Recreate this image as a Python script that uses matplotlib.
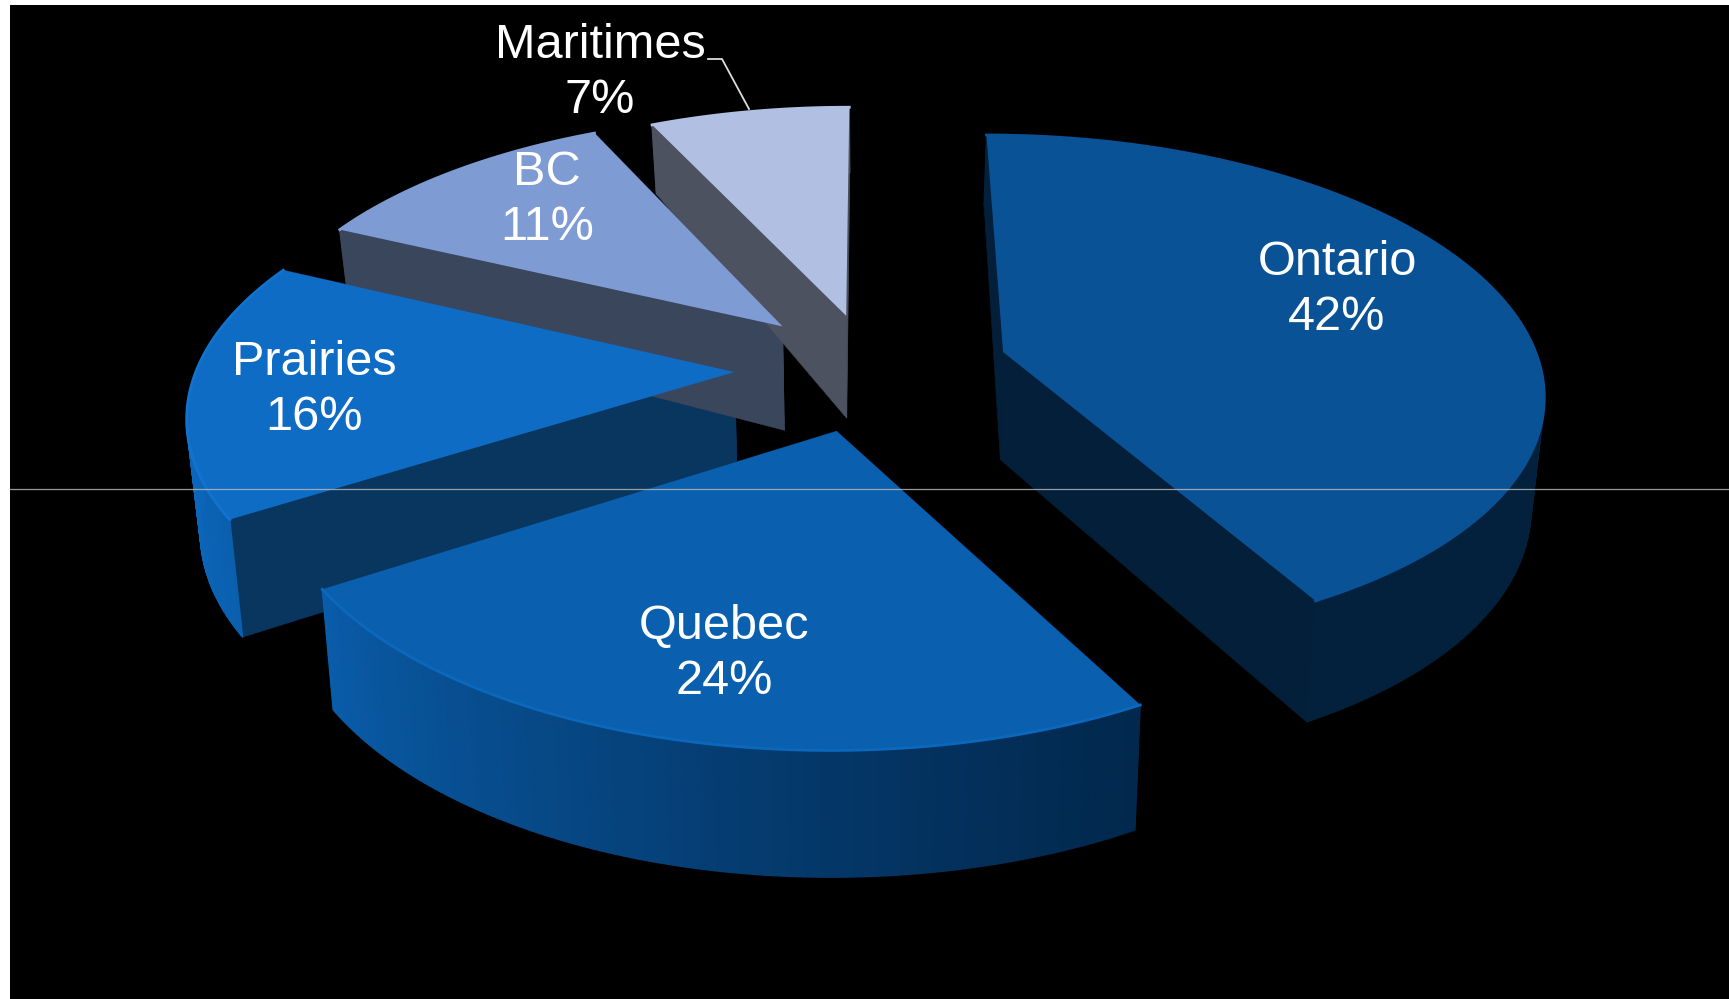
import numpy as np
import matplotlib
matplotlib.use('Agg')
import matplotlib.pyplot as plt
from matplotlib.collections import PolyCollection
from matplotlib.colors import to_rgb
from matplotlib.patches import Rectangle

# ------------------- data -------------------
regions = ['Ontario', 'Quebec', 'Prairies', 'BC', 'Maritimes']
shares = [42, 24, 16, 11, 7]
explode = [0.247, 0.24, 0.245, 0.23, 0.21]

# ------------------- style -------------------
top_col = ['#0a5296', '#0a60ae', '#0e6cc4', '#7e9bd4', '#b0bfe2']
rim_col = ['#0a5296', '#0b68bd', '#1273cf', '#7e9bd4', '#b0bfe2']
wall_start = ['#03213d', '#0a5eac', '#0c66ba', '#3a465c', '#4c5260']
wall_end = ['#03213d', '#02284d', '#0a5aa6', '#3a465c', '#4c5260']
side_col = ['#031f39', '#02284d', '#08365f', '#3a465c', '#4c5260']
label_pos = [(1337, 290), (724, 654), (314, 390), (547, 200), (600, 73)]

# fake perspective, all in pixels of the output picture
CX, CY = 871, 368
A, B, K = 557, 262, 0.15
R = 0.965
H0, H_FAR, H_NEAR = 110, 38, 14
BOTTOM_X = 0.98


def project(x, y, bottom=False):
    s = 1 / (1 + K * y)
    sx = A * x * s
    sy = CY - B * y * s
    if bottom:
        sx = sx * BOTTOM_X
        # the side walls get shallow towards the back of the pie
        sy = sy + H0 - H_FAR * np.maximum(y, 0) - H_NEAR * np.minimum(y, 0)
    return CX + sx, sy


def mix(c1, c2, t):
    return tuple((1 - t) * a + t * b for a, b in zip(to_rgb(c1), to_rgb(c2)))


fig = plt.figure(figsize=(17.29, 9.99), dpi=100, facecolor='white')
ax = fig.add_axes([0, 0, 1, 1])
ax.set_xlim(0, 1729)
ax.set_ylim(999, 0)
ax.axis('off')
ax.add_patch(Rectangle((10, 5), 1719, 994, color='black', lw=0, zorder=0))

# slice angles clockwise from 12 o'clock
edges = np.cumsum([0] + shares) / sum(shares) * 2 * np.pi

# painter's order, far slices first
for i in [4, 3, 2, 0, 1]:
    mid = (edges[i] + edges[i + 1]) / 2
    ox, oy = explode[i] * np.sin(mid), explode[i] * np.cos(mid)
    t = np.linspace(edges[i], edges[i + 1], 120)
    ax_x, ax_y = ox + R * np.sin(t), oy + R * np.cos(t)
    tx, ty = project(ax_x, ax_y)
    bx, by = project(ax_x, ax_y, bottom=True)
    px, py = project(ox, oy)
    qx, qy = project(ox, oy, bottom=True)

    # radial walls
    ax.fill([px, tx[0], bx[0], qx], [py, ty[0], by[0], qy], color=side_col[i], lw=0.5, zorder=2 + i / 10)
    ax.fill([px, tx[-1], bx[-1], qx], [py, ty[-1], by[-1], qy], color=side_col[i], lw=0.5, zorder=2 + i / 10)

    # outer wall as strips, shaded left to right
    quads = []
    cols = []
    xmin, xmax = min(tx), max(tx)
    for j in range(len(t) - 1):
        quads.append([(tx[j], ty[j]), (tx[j + 1], ty[j + 1]), (bx[j + 1], by[j + 1]), (bx[j], by[j])])
        cols.append(mix(wall_start[i], wall_end[i], ((tx[j] - xmin) / (xmax - xmin)) ** 0.7))
    ax.add_collection(PolyCollection(quads, facecolors=cols, edgecolors=cols, linewidths=1.0, zorder=2.5 + i / 10))

    # top face and rim
    ax.fill(np.r_[px, tx], np.r_[py, ty], color=top_col[i], lw=0, zorder=3 + i / 10)
    ax.plot(tx, ty, color=rim_col[i], lw=2, zorder=3 + i / 10)

for i in range(len(regions)):
    ax.text(label_pos[i][0], label_pos[i][1], f'{regions[i]}\n{shares[i]}%', color='white',
            family='Liberation Sans', fontsize=35, ha='center', va='center', linespacing=1.26, zorder=10)

# leader line for Maritimes
ax.plot([708, 722, 749], [59, 59, 109], color='#dddddd', lw=1.3, zorder=9)

# thin stray line across the slide
ax.plot([10, 1729], [489, 489], color='#b4b4b4', lw=0.9, alpha=0.85, zorder=8)

fig.savefig('out.png', dpi=100, facecolor='white')
